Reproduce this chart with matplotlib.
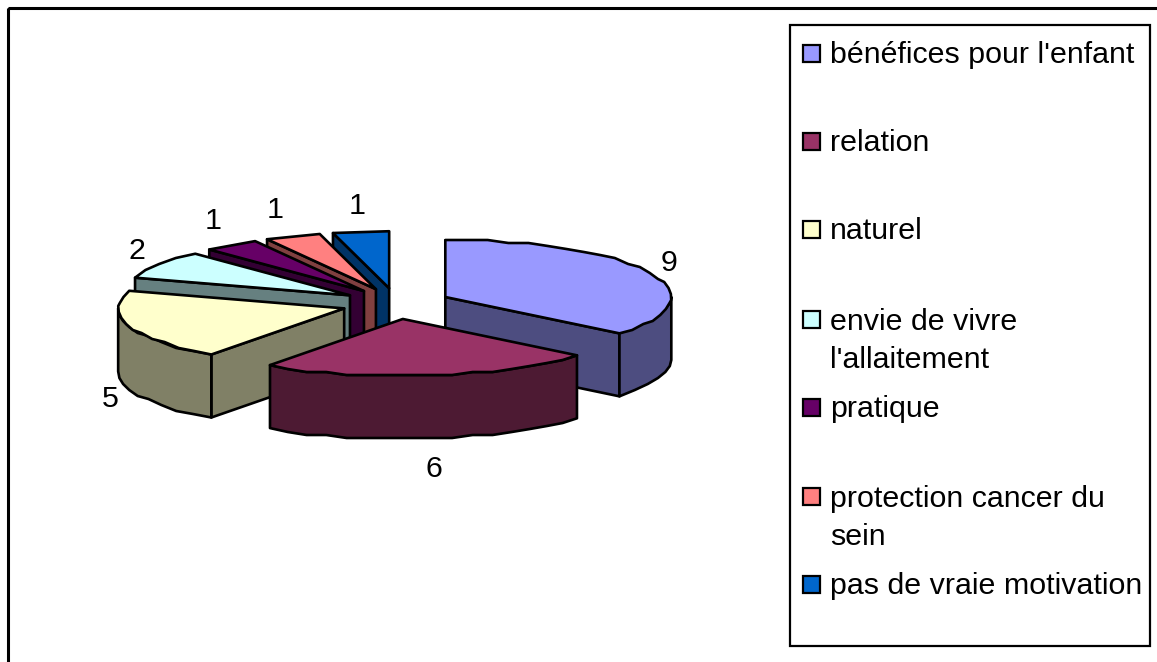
"""Exploded 3D-look pie of motivations, drawn with polygons in pixel coordinates."""

import matplotlib
matplotlib.use("Agg")
import matplotlib.pyplot as plt
import numpy as np
from matplotlib.patches import Rectangle

plt.rcParams["font.family"] = ["Liberation Sans", "DejaVu Sans"]

# ---------------------------------------------------------------------------
# Data
# ---------------------------------------------------------------------------
categories = [
    "bénéfices pour l'enfant",
    "relation",
    "naturel",
    "envie de vivre\nl'allaitement",
    "pratique",
    "protection cancer du\nsein",
    "pas de vraie motivation",
]
values = [9, 6, 5, 2, 1, 1, 1]
colors = ["#9999FF", "#993366", "#FFFFCC", "#CCFFFF", "#660066", "#FF8080", "#0066CC"]

# ---------------------------------------------------------------------------
# Layout (pixels)
# ---------------------------------------------------------------------------
W, H = 1157, 662
CX, CY = 396, 303.6
RX, RY = 226, 57
DEPTH = 63
EXPLODE_X, EXPLODE_Y = 54.5, 15.5
SNAP = 3  # the original rim is a coarse, slightly bumpy outline
LW = 1.9
FONT = 21.9
DRAW_ORDER = [6, 5, 4, 3, 0, 2, 1]
LABEL_POS = [(669, 263), (434, 469), (110, 399), (137, 251), (213, 221), (275, 210), (357, 206)]
LEGEND_Y = [55, 143, 231, 341, 409, 518, 586]


def darker(hex_color):
    rgb = matplotlib.colors.to_rgb(hex_color)
    return tuple(c * 0.5 for c in rgb)


def rim(cx, cy, a0, a1):
    n = max(int((a1 - a0) / 5), 2)
    t = np.radians(np.linspace(a0, a1, n))
    pts = np.column_stack([cx + RX * np.sin(t), cy - RY * np.cos(t)])
    pts[1:-1, 1] = np.round(pts[1:-1, 1] / SNAP) * SNAP
    return pts


def draw_slice(ax, start, end, color):
    mid = np.radians((start + end) / 2)
    cx = CX + EXPLODE_X * np.sin(mid)
    cy = CY - EXPLODE_Y * np.cos(mid)
    apex = np.array([cx, cy])
    drop = np.array([0, DEPTH])
    side = darker(color)
    style = dict(facecolor=side, edgecolor="black", linewidth=LW, joinstyle="round")

    # flat walls: only those turned toward the viewer
    for ang, sign in ((start, 1), (end, -1)):
        t = np.radians(ang)
        if sign * np.sin(t) > 0:
            continue
        tip = rim(cx, cy, ang, ang + 1)[0]
        ax.fill(*np.array([apex, tip, tip + drop, apex + drop]).T, **style)
    # curved wall, front half of the rim only
    a0, a1 = max(start, 90), min(end, 270)
    if a1 > a0:
        arc = rim(cx, cy, a0, a1)
        ax.fill(*np.vstack([arc, arc[::-1] + drop]).T, **style)
    # top face
    top = np.vstack([apex, rim(cx, cy, start, end)])
    ax.fill(*top.T, facecolor=color, edgecolor="black", linewidth=LW, joinstyle="round")


fig = plt.figure(figsize=(W / 100, H / 100), dpi=100)
ax = fig.add_axes([0, 0, 1, 1])
ax.set_xlim(0, W)
ax.set_ylim(H, 0)
ax.axis("off")

# chart frame runs off the right and bottom of the picture
ax.add_patch(Rectangle((8, 8), W + 20, H + 20, fill=False, edgecolor="black", linewidth=2.2))

angles = np.concatenate([[0], np.cumsum(values)]) / sum(values) * 360
for i in DRAW_ORDER:
    draw_slice(ax, angles[i], angles[i + 1], colors[i])

for val, (x, y) in zip(values, LABEL_POS):
    ax.text(x, y, str(val), fontsize=FONT, ha="center", va="center")

# legend
ax.add_patch(Rectangle((790, 25), 360, 621, facecolor="white", edgecolor="black", linewidth=1.6))
for name, col, y in zip(categories, colors, LEGEND_Y):
    first_y = y - 20 if "\n" in name else y
    ax.add_patch(Rectangle((803, first_y - 10), 17, 17, facecolor=col, edgecolor="black", linewidth=1.6))
    ax.text(830, y, name, fontsize=FONT, ha="left", va="center", linespacing=1.45)

fig.savefig("out.png", dpi=100)
